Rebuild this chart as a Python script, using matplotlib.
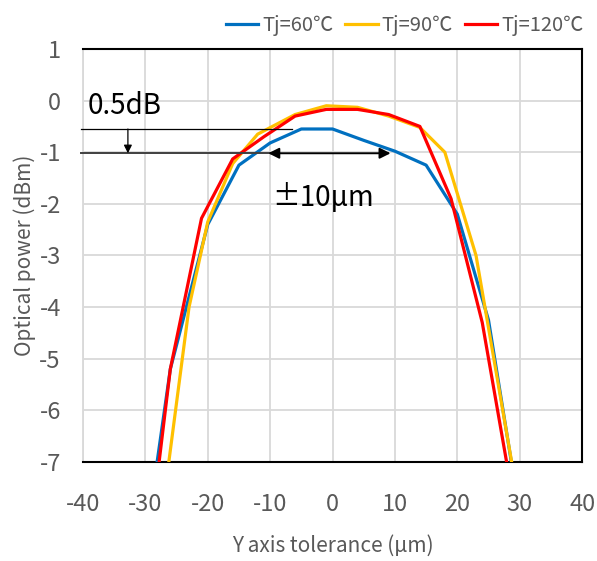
import matplotlib
matplotlib.use("Agg")
import matplotlib.pyplot as plt

plt.rcParams["font.family"] = ["Noto Sans CJK KR", "DejaVu Sans"]
plt.rcParams["axes.unicode_minus"] = False

# ── data ─────────────────────────────────────────────────────
x_60 = [-30, -26, -20, -15, -10, -5, 0, 5, 10, 15, 20, 25, 30]
y_60 = [-8.6, -5.2, -2.4, -1.25, -0.82, -0.55, -0.55, -0.77, -0.98, -1.25, -2.2, -4.25, -8.0]

x_90 = [-27, -23, -20, -16, -12, -6, -1, 4, 9, 14, 18, 23, 29]
y_90 = [-7.7, -4.0, -2.35, -1.22, -0.65, -0.27, -0.1, -0.13, -0.3, -0.52, -1.0, -3.0, -7.2]

x_120 = [-29, -26, -21, -16, -11, -6, -1, 4, 9, 14, 19, 24, 29]
y_120 = [-8.2, -5.2, -2.28, -1.13, -0.7, -0.3, -0.17, -0.17, -0.27, -0.5, -1.9, -4.3, -7.76]

labels = ["Tj=60\u2103", "Tj=90\u2103", "Tj=120\u2103"]
colors = ["#0070C0", "#FFC000", "#FF0000"]

x_ticks = list(range(-40, 41, 10))
y_ticks = list(range(-7, 2))

TXT = "#595959"
GRID = "#D9D9D9"

fig = plt.figure(figsize=(5.97, 5.61), dpi=100)
ax = fig.add_axes([0.139, 0.1765, 0.836, 0.7362])

lines = []
for xs, ys, lab, c in zip([x_60, x_90, x_120], [y_60, y_90, y_120], labels, colors):
    ln, = ax.plot(xs, ys, color=c, lw=2.3, label=lab, zorder=3)
    lines.append(ln)

ax.set_xlim(-40, 40)
ax.set_ylim(-7, 1)
ax.set_xticks(x_ticks)
ax.set_yticks(y_ticks)
ax.tick_params(length=0, labelsize=17, labelcolor=TXT)
ax.tick_params(axis="x", pad=22)
ax.tick_params(axis="y", pad=16)
ax.grid(True, color=GRID, lw=1.3)
ax.set_axisbelow(True)
for s in ["top", "right", "bottom"]:
    ax.spines[s].set_color("black")
    ax.spines[s].set_linewidth(1.5)
ax.spines["left"].set_color(GRID)
ax.spines["left"].set_linewidth(1.3)

ax.set_xlabel("Y axis tolerance (\u03bcm)", fontsize=15, color=TXT, labelpad=14)
ax.set_ylabel("Optical power (dBm)", fontsize=15, color=TXT, labelpad=2)

# 0.5dB / ±10um annotations
ax.plot([-40.3, -6.5], [-0.55, -0.55], color="black", lw=0.9, clip_on=False, zorder=4)
ax.plot([-40.3, -10], [-1.02, -1.02], color="#404040", lw=1.4, clip_on=False, zorder=4)
ax.annotate("", xy=(9.3, -1.02), xytext=(-10.3, -1.02),
            arrowprops=dict(arrowstyle="<|-|>", color="black", lw=1.4,
                            mutation_scale=16, shrinkA=0, shrinkB=0), zorder=4)
ax.annotate("", xy=(-32.8, -1.02), xytext=(-32.8, -0.55),
            arrowprops=dict(arrowstyle="-|>", color="black", lw=0.9,
                            mutation_scale=12, shrinkA=0, shrinkB=0), zorder=4)
ax.text(-33.4, -0.1, "0.5dB", fontsize=20, ha="center", va="center", color="black")
ax.text(-1.5, -1.88, "\u00b110\u03bcm", fontsize=20, ha="center", va="center", color="black")

fig.legend(handles=lines, loc="center", bbox_to_anchor=(0.678, 0.955), ncol=3,
           frameon=False, fontsize=14.5, labelcolor=TXT, handlelength=1.6,
           handletextpad=0.2, columnspacing=0.6)

fig.savefig("out.png", dpi=100)
